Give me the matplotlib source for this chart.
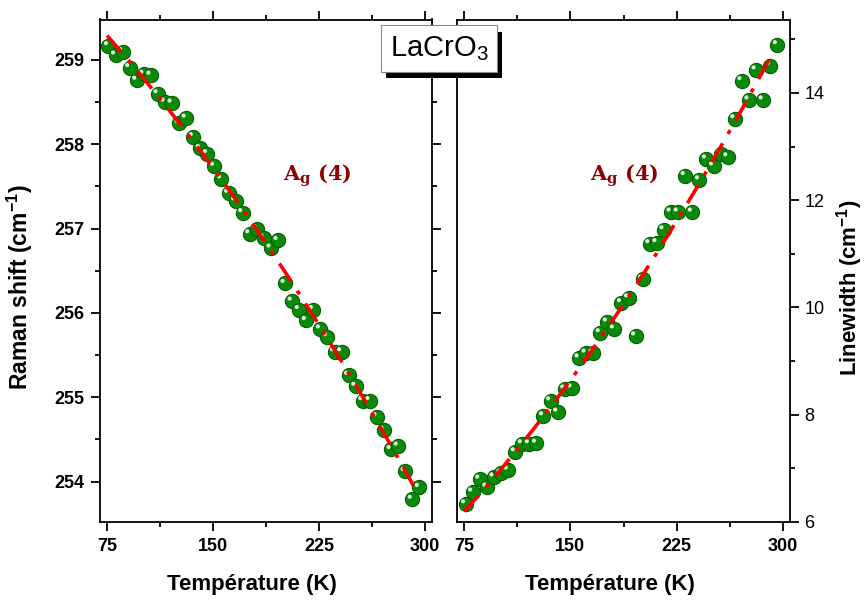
import numpy as np
import matplotlib.pyplot as plt
from matplotlib.ticker import MultipleLocator
import matplotlib.patheffects as pe
from matplotlib.transforms import offset_copy

plt.rcParams['font.family'] = ['Liberation Sans', 'DejaVu Sans']
plt.rcParams['mathtext.default'] = 'regular'

# temperature (K)
temperature = [76, 81, 86, 91, 96, 101, 106, 111, 116, 121, 126, 131, 136, 141, 146,
               151, 156, 161, 166, 171, 176, 181, 186, 191, 196, 201, 206, 211, 216, 221,
               226, 231, 236, 241, 246, 251, 256, 261, 266, 271, 276, 281, 286, 291, 296]

# Ag(4) Raman shift (cm-1)
raman_shift = [259.17, 259.06, 259.10, 258.91, 258.76, 258.83, 258.82, 258.60, 258.50, 258.49,
               258.25, 258.31, 258.09, 257.95, 257.89, 257.74, 257.59, 257.42, 257.33, 257.19,
               256.94, 257.00, 256.89, 256.77, 256.86, 256.35, 256.14, 256.04, 255.91, 256.04,
               255.81, 255.72, 255.54, 255.54, 255.26, 255.13, 254.96, 254.96, 254.77, 254.61,
               254.38, 254.42, 254.12, 253.79, 253.93]

# Ag(4) linewidth (cm-1)
linewidth = [6.34, 6.56, 6.80, 6.65, 6.84, 6.91, 6.97, 7.31, 7.46, 7.46,
             7.47, 7.98, 8.26, 8.05, 8.48, 8.50, 9.06, 9.15, 9.15, 9.53,
             9.73, 9.60, 10.09, 10.18, 9.47, 10.53, 11.19, 11.21, 11.45, 11.78,
             11.78, 12.46, 11.78, 12.38, 12.77, 12.64, 12.87, 12.81, 13.52, 14.23,
             13.87, 14.43, 13.87, 14.51, 14.90]

x_ticks = [75, 150, 225, 300]

fig = plt.figure(figsize=(8.64, 6), dpi=100)
ax1 = fig.add_axes([0.1157, 0.13, 0.3843, 0.8375])
ax2 = fig.add_axes([0.529, 0.13, 0.3854, 0.8375])

t = np.array(temperature)
t_fit = np.linspace(75, 292, 300)


def spheres(ax, x, y):
    ax.scatter(x, y, s=105, c='#0a8a0a', edgecolors='#006000', linewidths=0.8, zorder=2)
    hl = offset_copy(ax.transData, fig=fig, x=-1.8, y=1.8, units='points')
    ax.scatter(x, y, s=9, c='#f0fff0', edgecolors='none', alpha=0.9, transform=hl, zorder=2.5)


for ax, y in [(ax1, raman_shift), (ax2, linewidth)]:
    spheres(ax, temperature, y)
    coef = np.polyfit(t, np.array(y), 2)
    ax.plot(t_fit, np.polyval(coef, t_fit), color='red', lw=2.6,
            ls=(0, (6, 3, 1.2, 3)), zorder=3)
    ax.set_xlim(70, 305)
    ax.set_xticks(x_ticks)
    ax.xaxis.set_minor_locator(MultipleLocator(37.5))
    for s in ax.spines.values():
        s.set_linewidth(1.3)
    ax.tick_params(which='major', direction='out', length=6.5, width=1.3, labelsize=13, pad=5)
    ax.tick_params(which='minor', direction='out', length=3.5, width=1.3)
    ax.tick_params(axis='x', which='both', top=True)
    for lb in ax.get_xticklabels():
        lb.set_fontweight('bold')
    ax.set_xlabel('Température (K)', fontsize=16, fontweight='bold', labelpad=13.5)
    ax.xaxis.label.set_x(0.458)
    ax.text(0.55 if ax is ax1 else 0.40, 0.68, 'A$_g$ (4)', transform=ax.transAxes,
            color='#8b0000', fontsize=15, fontweight='bold', family='DejaVu Serif')

ax1.set_ylim(253.52, 259.48)
ax1.yaxis.set_major_locator(MultipleLocator(1))
ax1.yaxis.set_minor_locator(MultipleLocator(0.5))
ax1.tick_params(axis='y', which='both', right=True)
for lb in ax1.get_yticklabels():
    lb.set_fontweight('bold')
ax1.set_ylabel('Raman shift (cm$^{-1}$)', fontsize=16.5, fontweight='bold', labelpad=14)
ax1.yaxis.label.set_y(0.467)

ax2.set_ylim(6, 15.37)
ax2.yaxis.set_major_locator(MultipleLocator(2))
ax2.yaxis.set_minor_locator(MultipleLocator(1))
ax2.tick_params(axis='y', which='both', left=False, right=True, labelleft=False, labelright=True)
ax2.tick_params(axis='y', pad=4)
ax2.yaxis.set_label_position('right')
ax2.set_ylabel('Linewidth (cm$^{-1}$)', fontsize=16, fontweight='bold', labelpad=7)
ax2.yaxis.label.set_y(0.467)

title = fig.text(0.508, 0.919, 'LaCrO$_3$', fontsize=21, ha='center', va='center', zorder=10,
                 bbox=dict(boxstyle='square,pad=0.3', fc='white', ec='#888888', lw=0.8))
title.get_bbox_patch().set_path_effects([
    pe.SimplePatchShadow(offset=(4, -4.5), shadow_rgbFace='black', alpha=1.0),
    pe.Normal()])

fig.savefig('out.png', dpi=100)
